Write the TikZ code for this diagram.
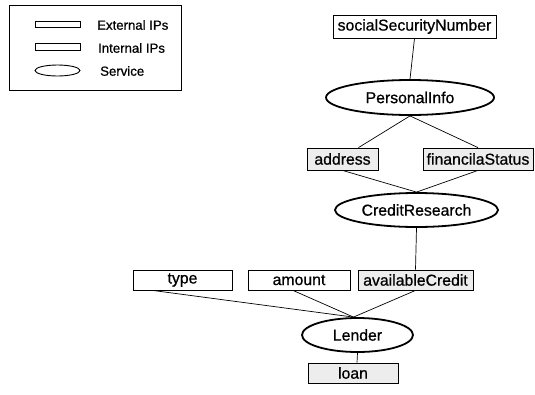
\documentclass[tikz,border=0pt]{standalone}
\usepackage{fontspec}
\setmainfont{Liberation Sans}
\newfontfamily\heavyfont[FakeBold=0.7]{Liberation Sans}
\usetikzlibrary{shapes.geometric}
\begin{document}
\begin{tikzpicture}[x=1pt,y=-1pt,
  ext/.style={draw=black,line width=0.8pt,fill=white,rectangle,inner sep=0pt,font=\heavyfont\fontsize{15.8}{17}\selectfont},
  int/.style={ext,fill=gray!14},
  svc/.style={draw=black,line width=1.8pt,ellipse,inner sep=0pt,font=\heavyfont\fontsize{15.8}{17}\selectfont},
  lg/.style={font=\heavyfont\fontsize{13.2}{14}\selectfont,anchor=west,inner sep=0pt},
  conn/.style={draw=black,line width=0.7pt}]
\useasboundingbox (0,0) rectangle (535,394);
% legend
\node[draw=black,line width=0.8pt,minimum width=172,minimum height=85,inner sep=0pt] (legend) at (95,47.5) {};
\node[draw=black,line width=0.7pt,minimum width=45,minimum height=6,inner sep=0pt] (lext) at (57.5,24.5) {};
\node[draw=black,line width=0.7pt,minimum width=45,minimum height=7,inner sep=0pt] (lint) at (57.5,46.5) {};
\node[draw=black,line width=0.9pt,ellipse,minimum width=45,minimum height=11,inner sep=0pt] (lsvc) at (57.5,70.5) {};
\node[lg] (textext) at (97,25) {External IPs};
\node[lg] (textint) at (98,48) {Internal IPs};
\node[lg] (textsvc) at (100,71) {Service};
% nodes
\node[ext,minimum width=163,minimum height=23] (ssn) at (414.5,26.5) {socialSecurityNumber};
\node[svc,minimum width=168,minimum height=35] (pi) at (410,97.5) {PersonalInfo};
\node[int,minimum width=71,minimum height=22] (addr) at (342.5,159) {address};
\node[int,minimum width=110,minimum height=22] (fin) at (478,159) {financilaStatus};
\node[svc,minimum width=163,minimum height=34] (cr) at (416.5,210) {CreditResearch};
\node[ext,minimum width=99,minimum height=20] (type) at (182.5,280) {type};
\node[ext,minimum width=102,minimum height=20] (amount) at (299,280) {amount};
\node[int,minimum width=115,minimum height=20] (avail) at (415.5,280) {availableCredit};
\node[svc,minimum width=111,minimum height=34] (lender) at (357.5,335) {Lender};
\node[int,minimum width=90,minimum height=20] (loan) at (353,373) {loan};
% connectors
\draw[conn] (ssn.south) -- (pi.north);
\draw[conn] (pi.south) -- ([xshift=16]addr.north);
\draw[conn] (pi.south) -- (fin.north);
\draw[conn] (addr.south) -- (cr.north);
\draw[conn] (fin.south) -- (cr.north);
\draw[conn] (cr.south) -- (avail.north);
\draw[conn] ([xshift=-30]type.south) -- ([xshift=-4]lender.north);
\draw[conn] ([xshift=-6]amount.south) -- ([xshift=-4]lender.north);
\draw[conn] (avail.south) -- ([xshift=-4]lender.north);
\draw[conn] (lender.south) -- ([xshift=4]loan.north);
\end{tikzpicture}
\end{document}
